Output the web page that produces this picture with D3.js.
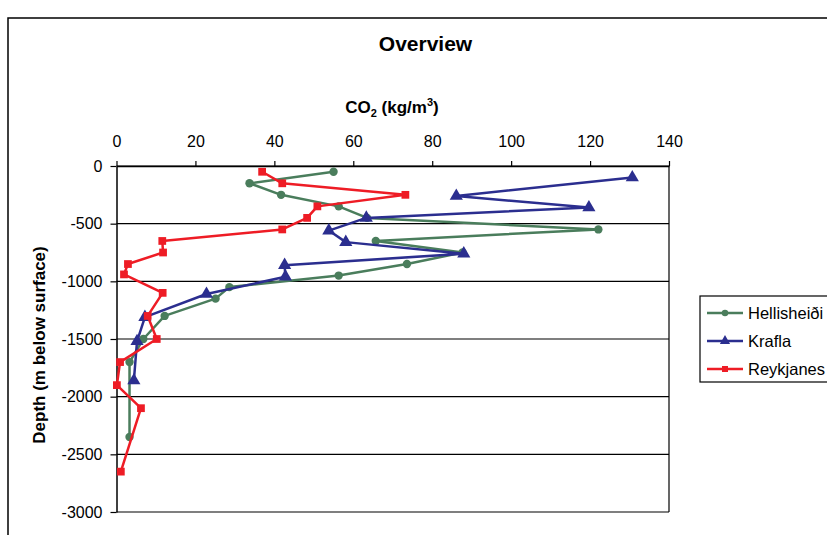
<!DOCTYPE html>
<html>
<head>
<meta charset="utf-8">
<script src="https://cdn.jsdelivr.net/npm/d3@7"></script>
<style>
  body { margin: 0; background: #fff; }
  svg { font-family: "Liberation Sans", Arial, sans-serif; }
</style>
</head>
<body>
<svg id="chart" width="827" height="535"></svg>
<script>
// CO2 (kg/m3) against depth (m below surface)
var hellDepth = [-50, -150, -250, -350, -450, -550, -650, -750, -850, -950, -1050, -1150, -1300, -1500, -1700, -2350];
var hellCO2   = [55.0, 33.7, 41.7, 56.3, 63.5, 122.1, 65.7, 87.7, 73.6, 56.3, 28.6, 25.1, 12.2, 6.8, 3.3, 3.3];

var kraflaDepth = [-100, -260, -360, -450, -560, -660, -760, -860, -960, -1110, -1310, -1520, -1860];
var kraflaCO2   = [130.7, 86.1, 119.7, 63.3, 53.8, 58.1, 88.0, 42.6, 42.8, 22.8, 7.2, 5.2, 4.4];

var reykDepth = [-50, -150, -250, -350, -450, -550, -650, -750, -850, -940, -1100, -1300, -1500, -1700, -1900, -2100, -2650];
var reykCO2   = [36.9, 42.0, 73.2, 50.9, 48.3, 42.0, 11.6, 11.8, 2.9, 1.9, 11.7, 7.9, 10.2, 0.9, 0.1, 6.2, 1.1];

var seriesNames = ["Hellisheiði", "Krafla", "Reykjanes"];
var xTicks = [0, 20, 40, 60, 80, 100, 120, 140];
var yTicks = [0, -500, -1000, -1500, -2000, -2500, -3000];

var series = [
  {name: seriesNames[0], color: "#4a7d5c", marker: "circle", depth: hellDepth, co2: hellCO2},
  {name: seriesNames[1], color: "#2b2e8f", marker: "triangle", depth: kraflaDepth, co2: kraflaCO2},
  {name: seriesNames[2], color: "#ee1c25", marker: "square", depth: reykDepth, co2: reykCO2}
];

var svg = d3.select("#chart");

// outer chart frame
svg.append("rect")
    .attr("x", 8).attr("y", 18)
    .attr("width", 900).attr("height", 600)
    .attr("fill", "none").attr("stroke", "#000").attr("stroke-width", 1.5);

var x = d3.scaleLinear().domain([0, 140]).range([116.5, 669]);
var y = d3.scaleLinear().domain([0, -3000]).range([166, 512]);

// gridlines
svg.append("g")
  .selectAll("line")
  .data(yTicks)
  .enter().append("line")
    .attr("x1", x(0)).attr("x2", x(140))
    .attr("y1", function(d) { return y(d); })
    .attr("y2", function(d) { return y(d); })
    .attr("stroke", "#000").attr("stroke-width", 1.2);

svg.append("line")
    .attr("x1", x(140)).attr("x2", x(140))
    .attr("y1", y(0)).attr("y2", y(-3000))
    .attr("stroke", "#000").attr("stroke-width", 1.2);

var xAxis = svg.append("g")
    .attr("transform", "translate(0," + y(0) + ")")
    .call(d3.axisTop(x).tickValues(xTicks).tickSize(5).tickPadding(14).tickSizeOuter(0)
      .tickFormat(function(d) { return String(d); }));

var yAxis = svg.append("g")
    .attr("transform", "translate(" + x(0) + ",0)")
    .call(d3.axisLeft(y).tickValues(yTicks).tickSize(6).tickPadding(8).tickSizeOuter(0)
      .tickFormat(function(d) { return String(d); }));

[xAxis, yAxis].forEach(function(a) {
  a.select(".domain").attr("stroke", "#000").attr("stroke-width", 1.5);
  a.selectAll(".tick line").attr("stroke", "#000").attr("stroke-width", 1.2);
  a.selectAll("text").attr("font-size", 16).attr("fill", "#000")
    .attr("font-family", "Liberation Sans, Arial, sans-serif");
});

// series
var symbolFor = {
  circle: d3.symbol().type(d3.symbolCircle),
  triangle: d3.symbol().type(d3.symbolTriangle),
  square: d3.symbol().type(d3.symbolSquare)
};
var markerSize = {circle: 55, triangle: 75, square: 60};

series.forEach(function(s) {
  var pts = s.depth.map(function(d, i) { return [s.co2[i], d]; });
  var line = d3.line()
      .x(function(p) { return x(p[0]); })
      .y(function(p) { return y(p[1]); });

  svg.append("path")
      .datum(pts)
      .attr("d", line)
      .attr("fill", "none")
      .attr("stroke", s.color)
      .attr("stroke-width", 2.5)
      .attr("stroke-linejoin", "round");

  svg.append("g")
    .selectAll("path")
    .data(pts)
    .enter().append("path")
      .attr("transform", function(p) { return "translate(" + x(p[0]) + "," + y(p[1]) + ")"; })
      .attr("d", symbolFor[s.marker].size(markerSize[s.marker]))
      .attr("fill", s.color);
});

// titles
svg.append("text")
    .attr("x", 425.5).attr("y", 51)
    .attr("text-anchor", "middle")
    .attr("font-size", 21).attr("font-weight", "bold")
    .text("Overview");

var xt = svg.append("text")
    .attr("x", 392).attr("y", 113)
    .attr("text-anchor", "middle")
    .attr("font-size", 17).attr("font-weight", "bold");
xt.append("tspan").text("CO");
xt.append("tspan").attr("font-size", 11).attr("dy", 4).text("2");
xt.append("tspan").attr("dy", -4).text(" (kg/m");
xt.append("tspan").attr("font-size", 11).attr("dy", -7).text("3");
xt.append("tspan").attr("dy", 7).text(")");

svg.append("text")
    .attr("transform", "translate(45,345) rotate(-90)")
    .attr("text-anchor", "middle")
    .attr("font-size", 17).attr("font-weight", "bold")
    .text("Depth (m below surface)");

// legend
var legend = svg.append("g");
legend.append("rect")
    .attr("x", 700).attr("y", 296)
    .attr("width", 200).attr("height", 86)
    .attr("fill", "#fff").attr("stroke", "#000").attr("stroke-width", 1.2);

var item = legend.selectAll("g")
    .data(series)
    .enter().append("g")
    .attr("transform", function(d, i) { return "translate(0," + (313 + i * 28) + ")"; });

item.append("line")
    .attr("x1", 707).attr("x2", 743)
    .attr("stroke", function(d) { return d.color; })
    .attr("stroke-width", 2.5);

item.append("path")
    .attr("transform", "translate(725,0)")
    .attr("d", function(d) { return symbolFor[d.marker].size(markerSize[d.marker] * 0.6)(); })
    .attr("fill", function(d) { return d.color; });

item.append("text")
    .attr("x", 748).attr("dy", "0.35em")
    .attr("font-size", 16.5)
    .text(function(d) { return d.name; });
</script>
</body>
</html>
